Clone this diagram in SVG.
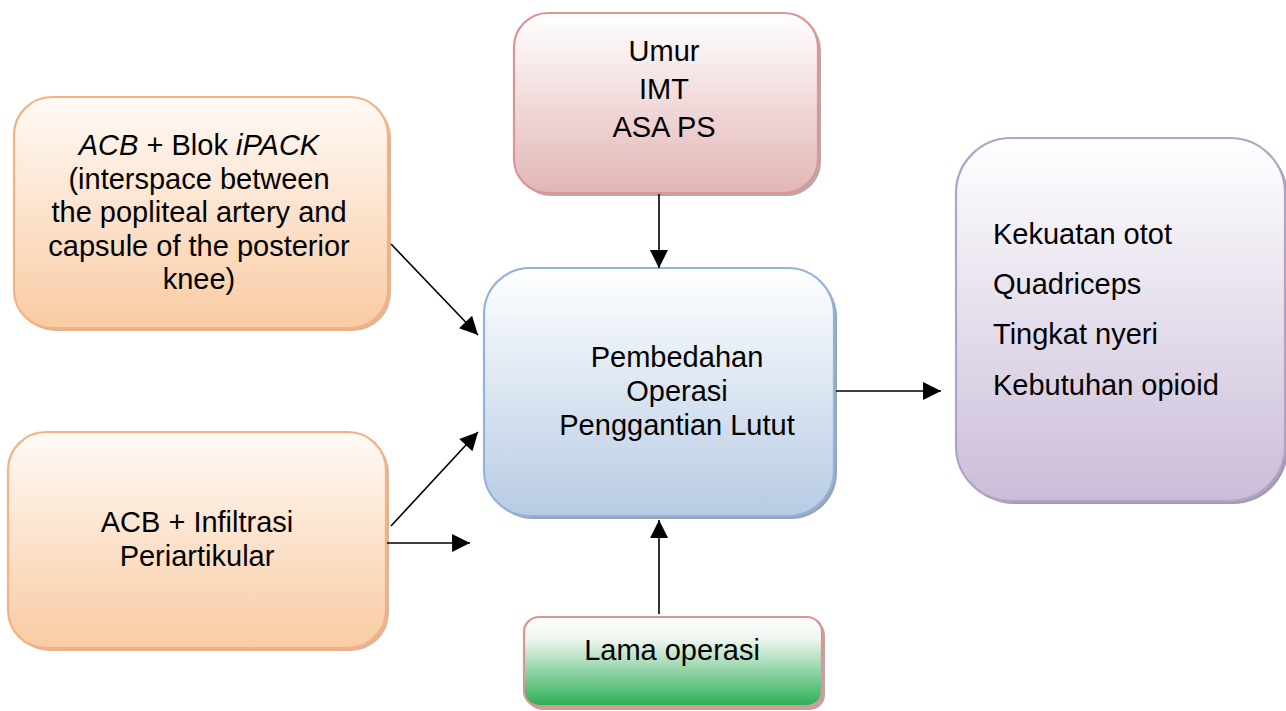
<svg xmlns="http://www.w3.org/2000/svg" width="1286" height="711" viewBox="0 0 1286 711">
<style>
text{font-family:"Liberation Sans",Arial,sans-serif;font-size:29px;fill:#000}
.c{text-anchor:middle}
.box{stroke-width:2.2}
.conn{stroke:#000;stroke-width:1.6;fill:none;marker-end:url(#ah)}
</style>
<defs>
<linearGradient id="gO" x1="0" y1="0" x2="0" y2="1"><stop offset="0" stop-color="#fffaf6"/><stop offset="1" stop-color="#f9cba3"/></linearGradient>
<linearGradient id="gR" x1="0" y1="0" x2="0" y2="1"><stop offset="0" stop-color="#ffffff"/><stop offset="1" stop-color="#e3b5b5"/></linearGradient>
<linearGradient id="gB" x1="0" y1="0" x2="0" y2="1"><stop offset="0" stop-color="#ffffff"/><stop offset="1" stop-color="#b7cbe4"/></linearGradient>
<linearGradient id="gP" x1="0" y1="0" x2="0" y2="1"><stop offset="0" stop-color="#ffffff"/><stop offset="1" stop-color="#cbbdd8"/></linearGradient>
<linearGradient id="gG" x1="0" y1="0" x2="0" y2="1"><stop offset="0" stop-color="#ffffff"/><stop offset="0.25" stop-color="#eef6ef"/><stop offset="1" stop-color="#2aae55"/></linearGradient>
<marker id="ah" viewBox="0 0 10 10" refX="10" refY="5" markerWidth="10" markerHeight="10" markerUnits="userSpaceOnUse" orient="auto" style="overflow:visible">
<path d="M0,0 L10,5 L0,10 Z" fill="#000" transform="scale(1.8) translate(-4.4,-2.2)"/>
</marker>
</defs>

<g id="node-acb-ipack">
<rect x="17" y="100" width="374" height="231" rx="38" fill="#d2a47f" opacity="0.8"/>
<rect class="box" x="14" y="97" width="374" height="231" rx="38" fill="url(#gO)" stroke="#f4b183"/>
<text class="c" x="199" y="155"><tspan font-style="italic">ACB</tspan> + Blok <tspan font-style="italic">iPACK</tspan></text>
<text class="c" x="199" y="189">(interspace between</text>
<text class="c" x="199" y="222">the popliteal artery and</text>
<text class="c" x="199" y="256">capsule of the posterior</text>
<text class="c" x="199" y="289">knee)</text>
</g>

<g id="node-acb-infiltrasi">
<rect x="11" y="435" width="378" height="216" rx="38" fill="#d2a47f" opacity="0.8"/>
<rect class="box" x="8" y="432" width="378" height="216" rx="38" fill="url(#gO)" stroke="#f4b183"/>
<text class="c" x="197" y="532">ACB + Infiltrasi</text>
<text class="c" x="197" y="566">Periartikular</text>
</g>

<g id="node-umur">
<rect x="517" y="16" width="304" height="180" rx="34" fill="#a08080" opacity="0.7"/>
<rect class="box" x="514" y="13" width="304" height="180" rx="34" fill="url(#gR)" stroke="#d99694"/>
<text class="c" x="664" y="61">Umur</text>
<text class="c" x="664" y="99">IMT</text>
<text class="c" x="664" y="137">ASA PS</text>
</g>

<g id="node-pembedahan">
<rect x="487" y="271" width="350" height="248" rx="46" fill="#7d8fa8" opacity="0.8"/>
<rect class="box" x="484" y="268" width="350" height="248" rx="46" fill="url(#gB)" stroke="#95b3d7"/>
<text class="c" x="677" y="367">Pembedahan</text>
<text class="c" x="677" y="401">Operasi</text>
<text class="c" x="677" y="435">Penggantian Lutut</text>
</g>

<g id="node-outcome">
<rect x="959" y="141" width="329" height="363" rx="55" fill="#8f829e" opacity="0.8"/>
<rect class="box" x="956" y="138" width="329" height="363" rx="55" fill="url(#gP)" stroke="#b3a2c7"/>
<text x="993" y="244">Kekuatan otot</text>
<text x="993" y="294">Quadriceps</text>
<text x="993" y="344">Tingkat nyeri</text>
<text x="993" y="395">Kebutuhan opioid</text>
</g>

<g id="node-lama">
<rect x="527" y="620" width="298" height="90" rx="15" fill="#a08080" opacity="0.7"/>
<rect class="box" x="524" y="617" width="298" height="89" rx="15" fill="url(#gG)" stroke="#d99694"/>
<text class="c" x="672" y="660">Lama operasi</text>
</g>

<g id="connectors">
<line class="conn" x1="659" y1="194" x2="659" y2="268"/>
<line class="conn" x1="659" y1="614" x2="659" y2="520"/>
<line class="conn" x1="836" y1="391" x2="941" y2="391"/>
<line class="conn" x1="391" y1="244" x2="478" y2="335"/>
<line class="conn" x1="391" y1="526" x2="478" y2="432"/>
<line class="conn" x1="387" y1="543" x2="470" y2="543"/>
</g>
</svg>
